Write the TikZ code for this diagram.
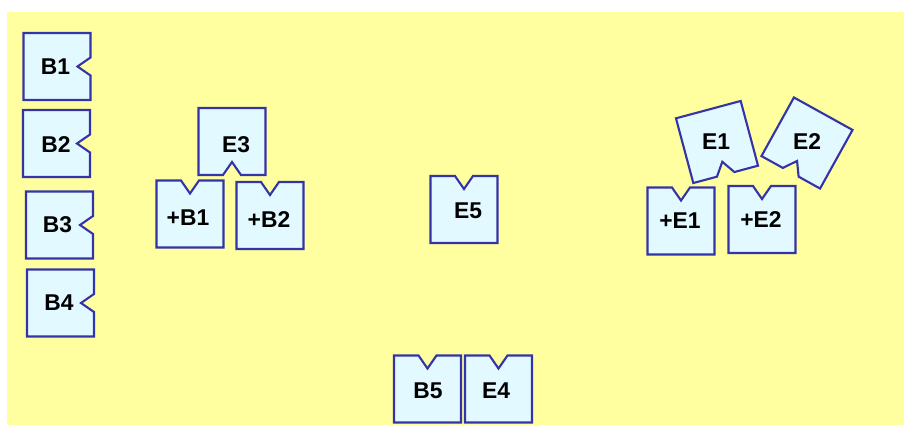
\documentclass[tikz,border=0pt]{standalone}
\usepackage{fontspec}
\setmainfont{Liberation Sans}
\definecolor{paper}{RGB}{255,255,160}
\definecolor{cardfill}{RGB}{226,249,255}
\definecolor{cardline}{RGB}{52,52,168}
\begin{document}
\begin{tikzpicture}[x=0.02cm, y=-0.02cm,
		card/.style={draw=cardline, fill=cardfill, line width=1.2pt},
		every node/.style={font=\bfseries\fontsize{13}{15}\selectfont},
		piece/.pic={\draw[card] (-33.5,33.5) -- (-9,33.5) -- (0,20.5) -- (9,33.5) -- (33.5,33.5) -- (33.5,-33.5) -- (-33.5,-33.5) -- cycle;}]
		\useasboundingbox[fill=white] (0,0) rectangle (904,427);
		\fill[paper] (7,12) rectangle (904,425);
		% left column
		\pic[rotate=90] at (57,66.5) {piece};
		\pic[rotate=90] at (56.5,143.5) {piece};
		\pic[rotate=90] at (59.5,225) {piece};
		\pic[rotate=90] at (60.5,303) {piece};
		\node (b1) at (55.5,67) {B1};
		\node (b2) at (56,145) {B2};
		\node (b3) at (57.5,225) {B3};
		\node (b4) at (59,303) {B4};
		% E3 over +B1 and +B2
		\pic at (232,141.5) {piece};
		\pic[rotate=180] at (190,214) {piece};
		\pic[rotate=180] at (270,215.5) {piece};
		\node (e3) at (236,145) {E3};
		\node (pb1) at (188,217.5) {+B1};
		\node (pb2) at (269,219.5) {+B2};
		% middle
		\pic[rotate=180] at (464,209.5) {piece};
		\node (e5) at (468,210.5) {E5};
		\pic[rotate=180] at (427.5,389) {piece};
		\pic[rotate=180] at (498.5,389) {piece};
		\node (b5) at (428,390.5) {B5};
		\node (e4) at (496,390.5) {E4};
		% right group
		\pic[rotate=15] at (717,142) {piece};
		\pic[rotate=-29] at (807,143) {piece};
		\pic[rotate=180] at (681,221) {piece};
		\pic[rotate=180] at (762,219.5) {piece};
		\node (e1) at (716,141.5) {E1};
		\node (e2) at (807,141.5) {E2};
		\node (pe1) at (680,221) {+E1};
		\node (pe2) at (761,220) {+E2};
	\end{tikzpicture}
\end{document}
